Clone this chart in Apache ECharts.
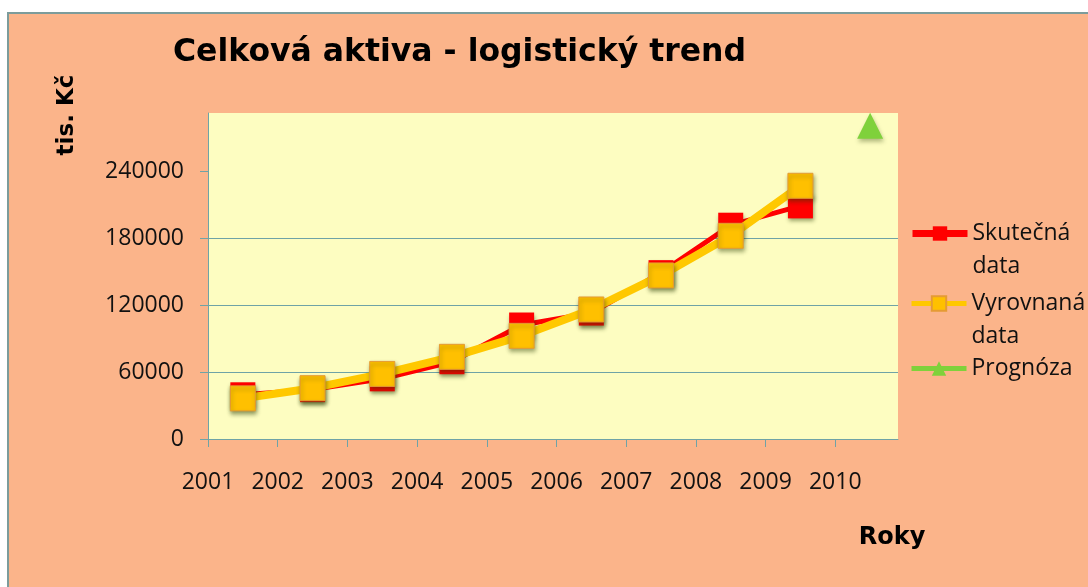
<!DOCTYPE html>
<html><head><meta charset="utf-8">
<script src="https://cdn.jsdelivr.net/npm/echarts@6/dist/echarts.min.js"></script>
<style>
html,body{margin:0;padding:0;background:#fff;width:1088px;height:587px;overflow:hidden}
#frame{position:absolute;left:7px;top:12px;right:0;bottom:0;background:#FBB48A;border-left:2px solid #7C9C9B;border-top:2px solid #7C9C9B}
#chart{position:absolute;left:0;top:0;width:1088px;height:587px}
</style></head><body><div id="frame"></div><div id="chart"></div>
<script>
const years = [2001, 2002, 2003, 2004, 2005, 2006, 2007, 2008, 2009];
const actualValues = [39600, 44200, 53900, 69200, 102100, 112800, 149000, 191500, 208800];
const fittedValues = [36400, 45500, 58300, 73600, 92400, 116000, 146500, 182000, 226800];
const forecastYears = [2010];
const forecastValues = [280500];
const xTickLabels = [2001, 2002, 2003, 2004, 2005, 2006, 2007, 2008, 2009, 2010];
const yTickLabels = [0, 60000, 120000, 180000, 240000];

const nameActual = 'Skutečná\ndata';
const nameFitted = 'Vyrovnaná\ndata';
const nameForecast = 'Prognóza';

const labelFont = 'Open Sans';
const boldFont = 'DejaVu Sans';
const axisColor = '#6FA3A6';

// points sit in the middle of each year interval, as in the reference
const mid = y => y + 0.5;

function legendFor(name, top, lineWidth, twoLine) {
  return {
    data: [name],
    left: 909,
    top: top,
    orient: 'vertical',
    padding: 0,
    itemWidth: 55,
    itemHeight: 18,
    selectedMode: false,
    lineStyle: { width: lineWidth },
    // a leading empty line keeps the icon level with the first text line
    formatter: n => (twoLine ? '\n' + n : n),
    textStyle: { fontFamily: labelFont, fontSize: 23, color: '#111', lineHeight: 33 }
  };
}

const chart = echarts.init(document.getElementById('chart'), null, { renderer: 'canvas' });
chart.setOption({
  backgroundColor: 'transparent',
  animation: false,
  title: {
    text: 'Celková aktiva - logistický trend',
    left: 168, top: 32,
    textStyle: { fontFamily: boldFont, fontWeight: 'bold', fontSize: 31.5, color: '#000' }
  },
  legend: [
    legendFor(nameActual, 184, 7, true),
    legendFor(nameFitted, 254, 5, true),
    legendFor(nameForecast, 352, 5, false)
  ],
  grid: {
    left: 208, right: 190, top: 113, bottom: 148,
    show: true, backgroundColor: '#FDFDC1', borderWidth: 0
  },
  xAxis: {
    type: 'value', min: 2001, max: 2010.9, interval: 1,
    axisLine: { show: true, lineStyle: { color: axisColor, width: 1 } },
    axisTick: { show: true, length: 8, customValues: xTickLabels, lineStyle: { color: axisColor } },
    axisLabel: {
      customValues: xTickLabels,
      formatter: v => (Number.isInteger(v) ? String(v) : ''),
      fontFamily: labelFont, fontSize: 23, color: '#111', margin: 32
    },
    splitLine: { show: false }
  },
  yAxis: {
    type: 'value', min: 0, max: 292000, interval: 60000,
    axisLine: { show: true, lineStyle: { color: axisColor, width: 1 } },
    axisTick: { show: true, length: 8, customValues: yTickLabels, lineStyle: { color: axisColor } },
    axisLabel: {
      customValues: yTickLabels,
      formatter: v => (v % 60000 === 0 ? String(v) : ''),
      fontFamily: labelFont, fontSize: 23, color: '#111', margin: 24
    },
    splitLine: { show: true, showMaxLine: false, lineStyle: { color: axisColor, width: 1 } }
  },
  graphic: [
    {
      type: 'text', x: 67, y: 115, rotation: Math.PI / 2,
      style: { text: 'tis. Kč', fontFamily: boldFont, fontWeight: 'bold', fontSize: 23, fill: '#000', align: 'center', verticalAlign: 'middle' }
    },
    {
      type: 'text', x: 892, y: 538,
      style: { text: 'Roky', fontFamily: boldFont, fontWeight: 'bold', fontSize: 24, fill: '#000', align: 'center', verticalAlign: 'middle' }
    }
  ],
  series: [
    {
      name: nameActual, type: 'line',
      data: years.map((y, i) => [mid(y), actualValues[i]]),
      symbol: 'rect', symbolSize: 25, showAllSymbol: true,
      lineStyle: { color: '#FF0000', width: 5 },
      itemStyle: { color: '#FF0000', shadowColor: 'rgba(40,60,0,0.45)', shadowBlur: 4, shadowOffsetX: 1, shadowOffsetY: 3 },
      z: 2
    },
    {
      name: nameFitted, type: 'line',
      data: years.map((y, i) => [mid(y), fittedValues[i]]),
      symbol: 'rect', symbolSize: 25, showAllSymbol: true,
      lineStyle: { color: '#FFC800', width: 8 },
      itemStyle: { color: '#FFC000', borderColor: '#E59B34', borderWidth: 1, shadowColor: 'rgba(40,60,0,0.45)', shadowBlur: 4, shadowOffsetX: 1, shadowOffsetY: 3 },
      z: 3
    },
    {
      name: nameForecast, type: 'line',
      data: forecastYears.map((y, i) => [mid(y), forecastValues[i]]),
      symbol: 'triangle', symbolSize: 26,
      lineStyle: { color: '#7FD13B', width: 5 },
      itemStyle: { color: '#7FD13B', shadowColor: 'rgba(40,60,0,0.35)', shadowBlur: 4, shadowOffsetX: 1, shadowOffsetY: 3 },
      z: 4
    }
  ]
});
</script></body></html>
